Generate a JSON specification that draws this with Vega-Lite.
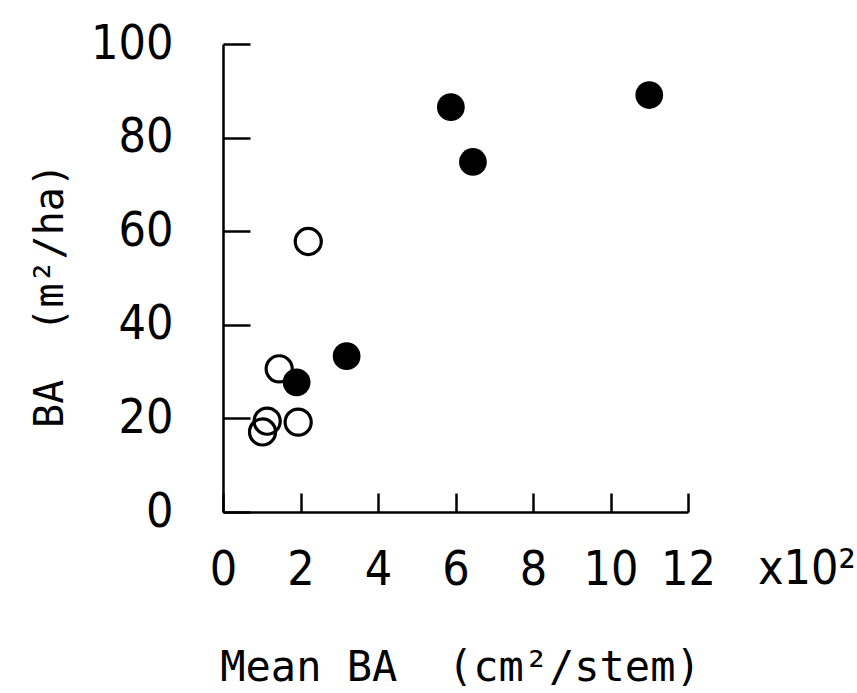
{
  "$schema": "https://vega.github.io/schema/vega-lite/v6.json",
  "autosize": {"type": "none"},
  "padding": {"left": 223, "top": 44, "right": 169, "bottom": 181},
  "width": 465,
  "height": 468,
  "background": "white",
  "config": {
    "view": {"stroke": null},
    "font": "DejaVu Sans Mono",
    "axis": {
      "grid": false,
      "domainColor": "black",
      "domainWidth": 2.5,
      "tickColor": "black",
      "tickWidth": 2.5,
      "labelFont": "DejaVu Sans Condensed",
      "labelFontSize": 48,
      "labelColor": "black",
      "titleFont": "DejaVu Sans Mono",
      "titleFontSize": 42,
      "titleFontWeight": "normal",
      "titleColor": "black"
    }
  },
  "data": {
    "values": [
      {"meanBA": 2.2, "BA": 57.8, "group": "open"},
      {"meanBA": 1.45, "BA": 30.6, "group": "open"},
      {"meanBA": 1.14, "BA": 19.4, "group": "open"},
      {"meanBA": 1.02, "BA": 17.1, "group": "open"},
      {"meanBA": 1.94, "BA": 19.2, "group": "open"},
      {"meanBA": 5.88, "BA": 86.5, "group": "filled"},
      {"meanBA": 6.45, "BA": 74.8, "group": "filled"},
      {"meanBA": 11.0, "BA": 89.1, "group": "filled"},
      {"meanBA": 3.19, "BA": 33.3, "group": "filled"},
      {"meanBA": 1.9, "BA": 27.7, "group": "filled"}
    ]
  },
  "layer": [
    {
      "transform": [{"filter": "datum.group === 'open'"}],
      "mark": {"type": "point", "shape": "circle", "filled": false, "stroke": "black", "strokeWidth": 3.2, "size": 680, "opacity": 1},
      "encoding": {
        "x": {
          "field": "meanBA", "type": "quantitative",
          "scale": {"domain": [0, 12], "nice": false, "zero": false},
          "axis": {
            "values": [0, 2, 4, 6, 8, 10, 12],
            "tickSize": -19,
            "labelPadding": 91,
            "labelBaseline": "alphabetic",
            "labelFlush": false,
            "title": "Mean BA\u00a0\u00a0(cm²/stem)",
            "titleX": 237,
            "titleY": 168,
            "titleBaseline": "alphabetic",
            "titleAnchor": "middle"
          }
        },
        "y": {
          "field": "BA", "type": "quantitative",
          "scale": {"domain": [0, 100], "nice": false},
          "axis": {
            "values": [0, 20, 40, 60, 80, 100],
            "tickSize": -27,
            "labelPadding": 77,
            "labelBaseline": "middle",
            "labelFlush": false,
            "title": "BA\u00a0\u00a0(m²/ha)",
            "titleFontSize": 40,
            "titleX": -161,
            "titleY": 251,
            "titleBaseline": "alphabetic",
            "titleAngle": -90,
            "titleAnchor": "middle"
          }
        }
      }
    },
    {
      "transform": [{"filter": "datum.group === 'filled'"}],
      "mark": {"type": "point", "shape": "circle", "filled": true, "fill": "black", "size": 770, "opacity": 1},
      "encoding": {
        "x": {"field": "meanBA", "type": "quantitative"},
        "y": {"field": "BA", "type": "quantitative"}
      }
    },
    {
      "data": {"values": [{"note": "x10²"}]},
      "mark": {"type": "text", "align": "left", "baseline": "alphabetic", "font": "DejaVu Sans Condensed", "fontSize": 48, "color": "black", "dx": 70, "dy": 72, "clip": false},
      "encoding": {
        "x": {"datum": 12, "type": "quantitative"},
        "y": {"datum": 0, "type": "quantitative"},
        "text": {"field": "note"}
      }
    }
  ]
}
